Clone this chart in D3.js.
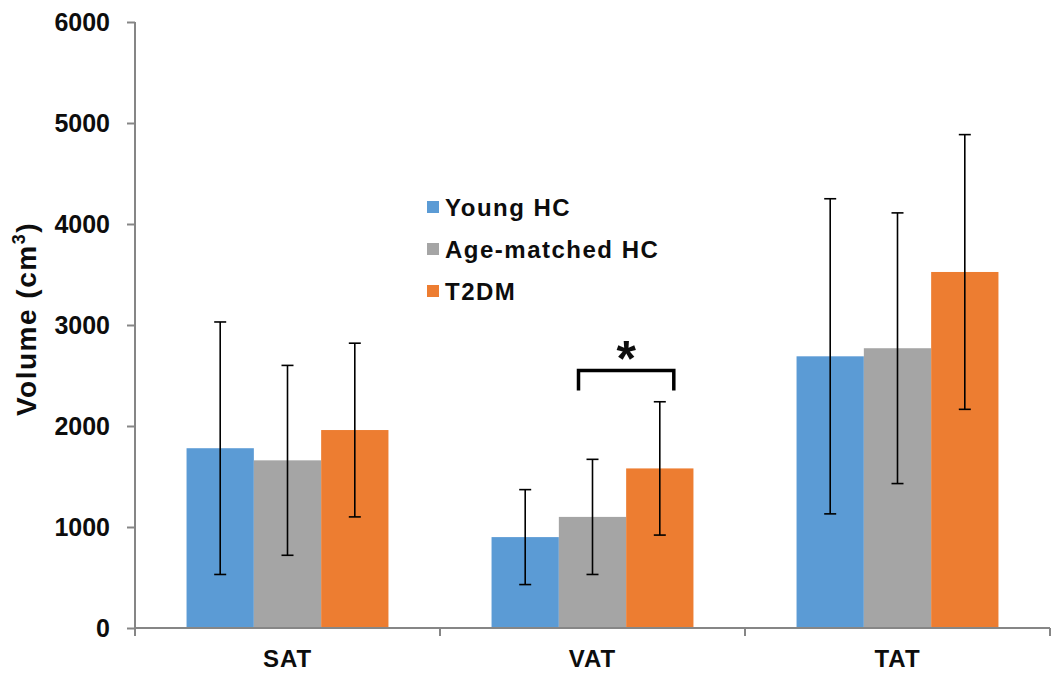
<!DOCTYPE html>
<html>
<meta charset="utf-8">
<style>
body { margin: 0; background: #fff; }
text { font-family: Arial, "Liberation Sans", sans-serif; font-weight: bold; fill: #0d0d0d; }
.axis path, .axis line { stroke: #868686; stroke-width: 2; }
</style>
<svg width="1052" height="675"></svg>
<script src="https://d3js.org/d3.v7.min.js"></script>
<script>
// data
var categories = ["SAT", "VAT", "TAT"];
var series = ["Young HC", "Age-matched HC", "T2DM"];
var colors = ["#5B9BD5", "#A5A5A5", "#ED7D31"];
var means = [
  [1780, 1660, 1960],
  [900, 1100, 1580],
  [2690, 2770, 3525]
];
var sds = [
  [1250, 940, 860],
  [470, 570, 660],
  [1560, 1340, 1360]
];
var yTicks = [0, 1000, 2000, 3000, 4000, 5000, 6000];

var svg = d3.select("svg");
var plotLeft = 135, plotRight = 1050, plotTop = 22, plotBottom = 628;

var x = d3.scaleBand()
    .domain(categories)
    .range([plotLeft, plotRight])
    .paddingInner(0.338)
    .paddingOuter(0.169);

var xs = d3.scaleBand()
    .domain(series)
    .range([0, x.bandwidth()]);

var y = d3.scaleLinear()
    .domain([0, 6000])
    .range([plotBottom, plotTop]);

// y axis
var yAxis = svg.append("g")
    .attr("class", "axis")
    .attr("transform", "translate(" + plotLeft + ",0)")
    .call(d3.axisLeft(y).tickValues(yTicks).tickSize(8).tickSizeOuter(0).tickPadding(17).tickFormat(d3.format("d")));
yAxis.selectAll("text").style("font-size", "25px").attr("fill", "#0d0d0d");
yAxis.select(".domain").attr("d", "M0," + plotTop + "V" + plotBottom);

// groups of bars
var groups = svg.selectAll(".grp")
    .data(categories)
    .enter().append("g")
      .attr("class", "grp")
      .attr("transform", function(d) { return "translate(" + x(d) + ",0)"; });

groups.selectAll("rect")
    .data(function(d, i) { return series.map(function(s, j) { return {s: s, j: j, m: means[i][j], e: sds[i][j]}; }); })
    .enter().append("rect")
      .attr("x", function(d) { return xs(d.s); })
      .attr("width", xs.bandwidth())
      .attr("y", function(d) { return y(d.m); })
      .attr("height", function(d) { return y(0) - y(d.m); })
      .attr("fill", function(d) { return colors[d.j]; });

// error bars
var err = groups.selectAll(".err")
    .data(function(d, i) { return series.map(function(s, j) { return {s: s, m: means[i][j], e: sds[i][j]}; }); })
    .enter().append("g")
      .attr("class", "err")
      .attr("transform", function(d) { return "translate(" + (xs(d.s) + xs.bandwidth() / 2) + ",0)"; })
      .attr("stroke", "#000")
      .attr("stroke-width", 1.6);
err.append("line")
    .attr("y1", function(d) { return y(d.m + d.e); })
    .attr("y2", function(d) { return y(d.m - d.e); });
err.append("line")
    .attr("x1", -6).attr("x2", 6)
    .attr("y1", function(d) { return y(d.m + d.e); })
    .attr("y2", function(d) { return y(d.m + d.e); });
err.append("line")
    .attr("x1", -6).attr("x2", 6)
    .attr("y1", function(d) { return y(d.m - d.e); })
    .attr("y2", function(d) { return y(d.m - d.e); });

// x axis
var xAxis = svg.append("g").attr("class", "axis");
xAxis.append("line")
    .attr("x1", plotLeft).attr("x2", plotRight)
    .attr("y1", plotBottom).attr("y2", plotBottom);
xAxis.selectAll(".tick")
    .data(d3.range(categories.length + 1))
    .enter().append("line")
      .attr("x1", function(i) { return plotLeft + i * x.step(); })
      .attr("x2", function(i) { return plotLeft + i * x.step(); })
      .attr("y1", plotBottom).attr("y2", plotBottom + 8);
svg.selectAll(".xlab")
    .data(categories)
    .enter().append("text")
      .attr("class", "xlab")
      .attr("x", function(d) { return x(d) + x.bandwidth() / 2; })
      .attr("y", 667)
      .attr("text-anchor", "middle")
      .style("font-size", "24px")
      .style("letter-spacing", "1px")
      .text(function(d) { return d; });

// y label
var yl = svg.append("text")
    .attr("transform", "translate(36," + 319 + ") rotate(-90)")
    .attr("text-anchor", "middle")
    .style("font-size", "28px")
    .style("letter-spacing", "1.5px");
yl.append("tspan").text("Volume (cm");
yl.append("tspan").attr("dy", -11).style("font-size", "18px").text("3");
yl.append("tspan").attr("dy", 11).text(")");

// legend
var legend = svg.selectAll(".legend")
    .data(series)
    .enter().append("g")
      .attr("class", "legend")
      .attr("transform", function(d, i) { return "translate(427," + (207 + i * 42) + ")"; });
legend.append("rect")
    .attr("x", 0).attr("y", -6)
    .attr("width", 12).attr("height", 12)
    .attr("fill", function(d, i) { return colors[i]; });
legend.append("text")
    .attr("x", 18)
    .attr("dy", "0.36em")
    .style("font-size", "24px")
    .style("letter-spacing", "1.5px")
    .text(function(d) { return d; });

// significance bracket over VAT age-matched HC vs T2DM
var bx1 = x("VAT") + xs(series[1]) + xs.bandwidth() / 2 - 14,
    bx2 = x("VAT") + xs(series[2]) + xs.bandwidth() / 2 + 14,
    by = y(2550);
svg.append("path")
    .attr("d", "M" + bx1 + "," + (by + 20) + "V" + by + "H" + bx2 + "V" + (by + 20))
    .attr("fill", "none")
    .attr("stroke", "#000")
    .attr("stroke-width", 3.5);
svg.append("text")
    .attr("x", (bx1 + bx2) / 2)
    .attr("y", by + 6)
    .attr("text-anchor", "middle")
    .style("font-size", "50px")
    .text("*");
</script>
</html>
